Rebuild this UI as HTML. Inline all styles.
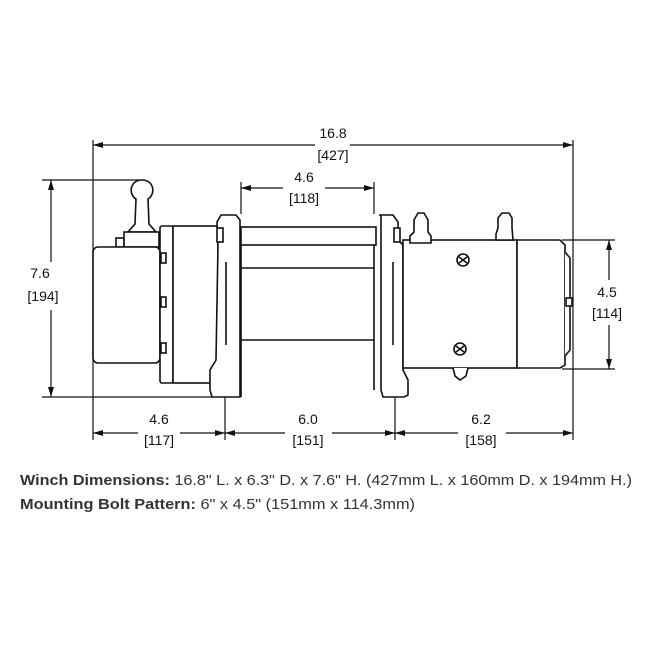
<!DOCTYPE html>
<html><head><meta charset="utf-8"><style>
html,body{margin:0;padding:0;background:#fff;}
svg{display:block;}
</style></head><body>
<svg width="648" height="648" viewBox="0 0 648 648" xmlns="http://www.w3.org/2000/svg">
<defs>
<marker id="a" viewBox="0 0 10 6" refX="10" refY="3" markerWidth="10" markerHeight="6" orient="auto-start-reverse" markerUnits="userSpaceOnUse"><path d="M0,0 L10,3 L0,6 z" fill="#111"/></marker>
</defs>
<g stroke="#111" stroke-width="1.2" fill="none">
<line x1="93" y1="140" x2="93" y2="440"/>
<line x1="573" y1="140" x2="573" y2="440"/>
<line x1="42" y1="180" x2="140" y2="180"/>
<line x1="42" y1="397" x2="215" y2="397"/>
<line x1="225" y1="397" x2="225" y2="440"/>
<line x1="395" y1="397" x2="395" y2="440"/>
<line x1="241" y1="182" x2="241" y2="214"/>
<line x1="374" y1="182" x2="374" y2="214"/>
<line x1="562" y1="240" x2="615" y2="240"/>
<line x1="562" y1="369" x2="615" y2="369"/>
<line x1="93" y1="145" x2="315" y2="145" marker-start="url(#a)"/>
<line x1="350" y1="145" x2="573" y2="145" marker-end="url(#a)"/>
<line x1="241" y1="188" x2="283" y2="188" marker-start="url(#a)"/>
<line x1="325" y1="188" x2="374" y2="188" marker-end="url(#a)"/>
<line x1="51" y1="180" x2="51" y2="262" marker-start="url(#a)"/>
<line x1="51" y1="310" x2="51" y2="397" marker-end="url(#a)"/>
<line x1="609" y1="240" x2="609" y2="280" marker-start="url(#a)"/>
<line x1="609" y1="325" x2="609" y2="369" marker-end="url(#a)"/>
<line x1="93" y1="433" x2="138" y2="433" marker-start="url(#a)"/>
<line x1="180" y1="433" x2="225" y2="433" marker-end="url(#a)"/>
<line x1="225" y1="433" x2="285" y2="433" marker-start="url(#a)"/>
<line x1="332" y1="433" x2="395" y2="433" marker-end="url(#a)"/>
<line x1="395" y1="433" x2="458" y2="433" marker-start="url(#a)"/>
<line x1="506" y1="433" x2="573" y2="433" marker-end="url(#a)"/>
</g>
<g stroke="#111" stroke-width="1.6" fill="#fff">
<path d="M136,199 C128,194 130,180 142,180 C154,180 156,194 148,199 L149,224 L156,232 L128,232 L135,224 Z"/>
<rect x="116" y="238" width="8" height="9"/>
<rect x="124" y="232" width="35" height="15"/>
<rect x="93" y="247" width="67" height="116" rx="5"/>
<rect x="160" y="226" width="13" height="157" rx="2"/>
<rect x="173" y="226" width="45" height="157"/>
<rect x="161" y="253" width="5" height="10"/><rect x="161" y="297" width="5" height="10"/><rect x="161" y="343" width="5" height="10"/>
<rect x="241" y="227" width="135" height="18"/>
<line x1="241" y1="268" x2="374" y2="268"/>
<line x1="241" y1="340" x2="374" y2="340"/>
<line x1="241" y1="245" x2="241" y2="397"/>
<line x1="374" y1="245" x2="374" y2="390"/>
<path d="M221,215 L236,215 L240,220 L240,397 L212,397 L210,390 L210,370 L216,360 L218,245 L217,222 Z"/>
<line x1="226" y1="262" x2="226" y2="345"/>
<rect x="217" y="228" width="6" height="14"/>
<path d="M379,215 L393,215 L398,222 L398,240 L403,245 L403,370 L408,380 L408,395 L404,397 L383,397 L381,390 L381,215 Z"/>
<line x1="393" y1="262" x2="393" y2="345"/>
<rect x="394" y="228" width="6" height="14"/>
<rect x="403" y="240" width="114" height="128"/>
<path d="M517,240 L560,240 L565,245 L565,365 L560,368 L517,368 Z"/>
<path d="M565,252 L570,258 L570,350 L565,356"/>
<rect x="566" y="298" width="6" height="8"/>
<path d="M410,243 L410,236 L414,232 L414,220 L418,213 L424,213 L428,220 L428,232 L431,236 L431,243 Z"/>
<path d="M496,240 L496,234 L498,228 L498,218 L502,213 L509,213 L512,218 L512,228 L513,240 Z"/>
<path d="M453,368 L455,376 L460,380 L466,376 L468,368"/>
<circle cx="463" cy="260" r="6"/><circle cx="460" cy="349" r="6"/>
<path d="M459,257 L467,263 M459,263 L467,257 M456,346 L464,352 M456,352 L464,346" fill="none"/>
</g>
<g font-family="Liberation Sans, sans-serif" font-size="14" fill="#111" text-anchor="middle">
<text x="333" y="138">16.8</text><text x="333" y="160">[427]</text>
<text x="304" y="182">4.6</text><text x="304" y="203">[118]</text>
<text x="40" y="278">7.6</text><text x="43" y="301">[194]</text>
<text x="607" y="297">4.5</text><text x="607" y="318">[114]</text>
<text x="159" y="424">4.6</text><text x="159" y="445">[117]</text>
<text x="308" y="424">6.0</text><text x="308" y="445">[151]</text>
<text x="481" y="424">6.2</text><text x="481" y="445">[158]</text>
</g>
<g font-family="Liberation Sans, sans-serif" font-size="14.5" fill="#333">
<text x="20" y="485" textLength="612" lengthAdjust="spacingAndGlyphs"><tspan font-weight="bold">Winch Dimensions:</tspan> 16.8" L. x 6.3" D. x 7.6" H. (427mm L. x 160mm D. x 194mm H.)</text>
<text x="20" y="509" textLength="395" lengthAdjust="spacingAndGlyphs"><tspan font-weight="bold">Mounting Bolt Pattern:</tspan> 6" x 4.5" (151mm x 114.3mm)</text>
</g>
</svg>
</body></html>
